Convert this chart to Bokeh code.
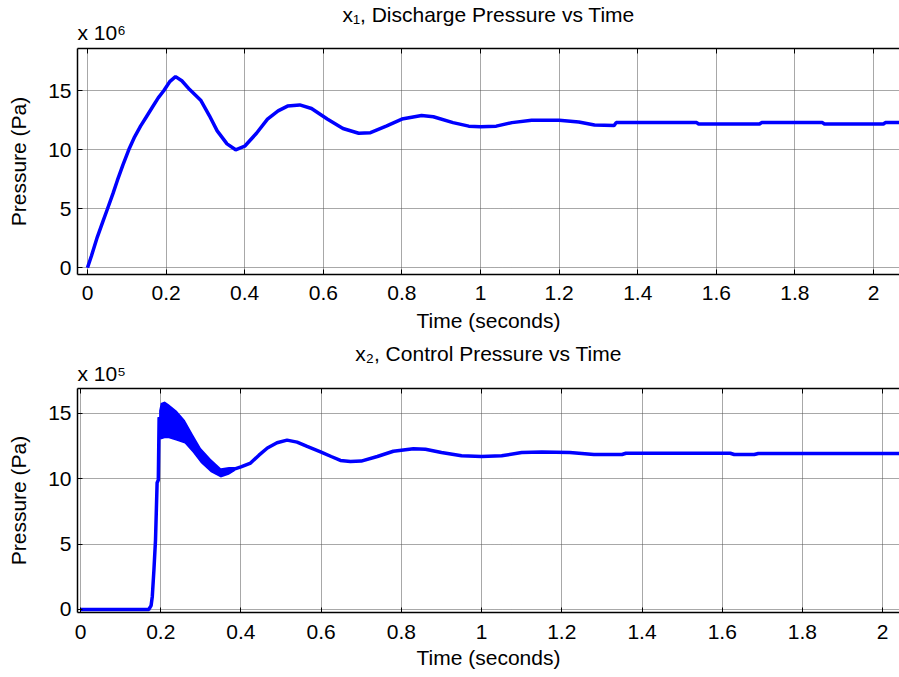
from bokeh.plotting import figure
from bokeh.models import Range1d, FixedTicker, LinearAxis, Title
from bokeh.layouts import column
from bokeh.embed import file_html
from bokeh.resources import INLINE

FONT = "Liberation Sans"
FS = "21px"

# ---------------- data ----------------
x_ticks = [0, 0.2, 0.4, 0.6, 0.8, 1.0, 1.2, 1.4, 1.6, 1.8, 2.0]
x_tick_labels = ["0", "0.2", "0.4", "0.6", "0.8", "1", "1.2", "1.4", "1.6", "1.8", "2"]
y_ticks = [0, 5, 10, 15]
y_tick_labels = ["0", "5", "10", "15"]

# x1 discharge pressure, units of 1e6 Pa
x1_t = [0.000, 0.010, 0.025, 0.040, 0.051, 0.065, 0.076, 0.090, 0.105, 0.120,
        0.135, 0.150, 0.165, 0.180, 0.194, 0.210, 0.224, 0.240, 0.260, 0.288,
        0.310, 0.330, 0.355, 0.377, 0.400, 0.430, 0.458, 0.485, 0.509, 0.540,
        0.570, 0.610, 0.650, 0.690, 0.720, 0.760, 0.800, 0.850, 0.880, 0.930,
        0.970, 1.000, 1.040, 1.080, 1.130, 1.200, 1.250, 1.290, 1.340, 1.345,
        1.550, 1.555, 1.710, 1.715, 1.870, 1.875, 2.025, 2.030, 2.070]
x1_v = [0.0, 1.0, 2.6, 4.0, 5.0, 6.3, 7.4, 8.7, 10.0, 11.1,
        12.0, 12.8, 13.6, 14.4, 15.0, 15.8, 16.2, 15.85, 15.1, 14.2,
        12.9, 11.6, 10.5, 10.0, 10.3, 11.4, 12.6, 13.3, 13.7, 13.8,
        13.5, 12.6, 11.8, 11.4, 11.45, 12.0, 12.6, 12.9, 12.8, 12.3,
        12.0, 11.95, 12.0, 12.3, 12.5, 12.5, 12.35, 12.1, 12.05, 12.3,
        12.3, 12.18, 12.18, 12.3, 12.3, 12.18, 12.18, 12.3, 12.3]

# x2 control pressure, units of 1e5 Pa
x2_t = [0.000, 0.170, 0.176, 0.179, 0.183, 0.187, 0.191, 0.194, 0.196, 0.200,
        0.220, 0.250, 0.280, 0.300, 0.325, 0.350, 0.370, 0.400, 0.424, 0.445,
        0.466, 0.490, 0.515, 0.540, 0.565, 0.600, 0.625, 0.648, 0.673, 0.700,
        0.740, 0.780, 0.830, 0.860, 0.900, 0.950, 1.000, 1.050, 1.100, 1.150,
        1.220, 1.280, 1.350, 1.360, 1.620, 1.630, 1.680, 1.690, 2.050]
x2_v = [0.0, 0.0, 0.3, 1.0, 3.0, 5.3, 9.7, 9.9, 14.7, 14.4,
        14.4, 13.9, 12.8, 11.8, 11.0, 10.45, 10.6, 10.9, 11.2, 11.8,
        12.35, 12.75, 12.95, 12.8, 12.47, 12.04, 11.7, 11.4, 11.32, 11.35,
        11.7, 12.1, 12.3, 12.25, 12.0, 11.75, 11.7, 11.75, 12.0, 12.05,
        12.0, 11.85, 11.85, 11.95, 11.95, 11.85, 11.85, 11.93, 11.93]

# envelope of the fast oscillation in x2 (units of 1e5 Pa)
band_t = [0.196, 0.200, 0.210, 0.220, 0.240, 0.260, 0.280, 0.300, 0.325, 0.350, 0.370, 0.385]
band_hi = [15.2, 15.8, 15.9, 15.7, 15.2, 14.5, 13.4, 12.35, 11.5, 10.8, 10.9, 10.9]
band_lo = [13.2, 13.0, 13.1, 13.1, 12.9, 12.7, 12.0, 11.2, 10.5, 10.1, 10.3, 10.6]

titles = ["x\u2081, Discharge Pressure vs Time", "x\u2082, Control Pressure vs Time"]
exponents = ["x 10\u2076", "x 10\u2075"]
x_label = "Time (seconds)"
y_label = "Pressure (Pa)"


def set_standoff(t, v):
    try:
        t.standoff = v
    except Exception:
        t.standoff = 0


def make_fig(height, xr, yr, b_top, b_bottom, title, t_standoff, exp_text, e_standoff,
             lbl_standoff, axlbl_standoff):
    p = figure(width=899, height=height, x_range=Range1d(*xr), y_range=Range1d(*yr),
               output_backend="svg", toolbar_location=None, title=None,
               min_border_left=77, min_border_right=0,
               min_border_top=b_top, min_border_bottom=b_bottom)
    p.outline_line_color = None
    p.background_fill_color = "white"
    p.border_fill_color = "white"

    xt = FixedTicker(ticks=x_ticks)
    yt = FixedTicker(ticks=y_ticks)
    for ax, tk, labs in ((p.xaxis[0], xt, x_tick_labels), (p.yaxis[0], yt, y_tick_labels)):
        ax.ticker = tk
        ax.major_label_overrides = {t: l for t, l in zip(tk.ticks, labs)}
        ax.major_label_text_font = FONT
        ax.major_label_text_font_size = FS
        ax.major_label_text_color = "black"
        ax.axis_label_text_font = FONT
        ax.axis_label_text_font_size = FS
        ax.axis_label_text_font_style = "normal"
        ax.axis_label_text_color = "black"
        ax.major_tick_in = 5
        ax.major_tick_out = 0
        ax.minor_tick_line_color = None
        ax.axis_line_color = "black"
        ax.axis_line_width = 1.5
        ax.major_tick_line_color = "black"
    p.xaxis.axis_label = x_label
    p.yaxis.axis_label = y_label
    p.xaxis.major_label_standoff = lbl_standoff
    p.xaxis.axis_label_standoff = axlbl_standoff
    p.yaxis.major_label_standoff = 6
    p.yaxis.axis_label_standoff = 15

    top = LinearAxis(ticker=FixedTicker(ticks=x_ticks), major_label_text_font_size="0px",
                     major_label_text_color=None, major_label_standoff=0,
                     major_tick_in=5, major_tick_out=0,
                     minor_tick_line_color=None, axis_line_color="black",
                     axis_line_width=1.5)
    p.add_layout(top, "above")

    p.xgrid.ticker = xt
    p.ygrid.ticker = yt
    for g in (p.xgrid[0], p.ygrid[0]):
        g.grid_line_color = "#505050"
        g.grid_line_dash = "1 1"
        g.grid_line_width = 1

    t_exp = Title(text=exp_text, align="left", text_font=FONT, text_font_size=FS,
                  text_font_style="normal", text_color="black")
    set_standoff(t_exp, e_standoff)
    p.add_layout(t_exp, "above")
    t_main = Title(text=title, align="center", text_font=FONT, text_font_size=FS,
                   text_font_style="normal", text_color="black")
    set_standoff(t_main, t_standoff)
    p.add_layout(t_main, "above")
    return p


p1 = make_fig(339, (-0.0254, 2.066), (-0.57, 18.58), 48, 65, titles[0], -24, exponents[0], 10, 11, 6)
p1.line(x1_t, x1_v, line_color="#0000ff", line_width=3.5)

p2 = make_fig(337, (-0.0075, 2.042), (-0.23, 16.9), 49, 64, titles[1], -16, exponents[1], 7, 12, 4)
p2.varea(x=band_t, y1=band_lo, y2=band_hi, fill_color="#0000ff")
p2.line(x2_t, x2_v, line_color="#0000ff", line_width=3.5)

layout = column(p1, p2, spacing=0)
open("out.html", "w").write(file_html(layout, INLINE))
